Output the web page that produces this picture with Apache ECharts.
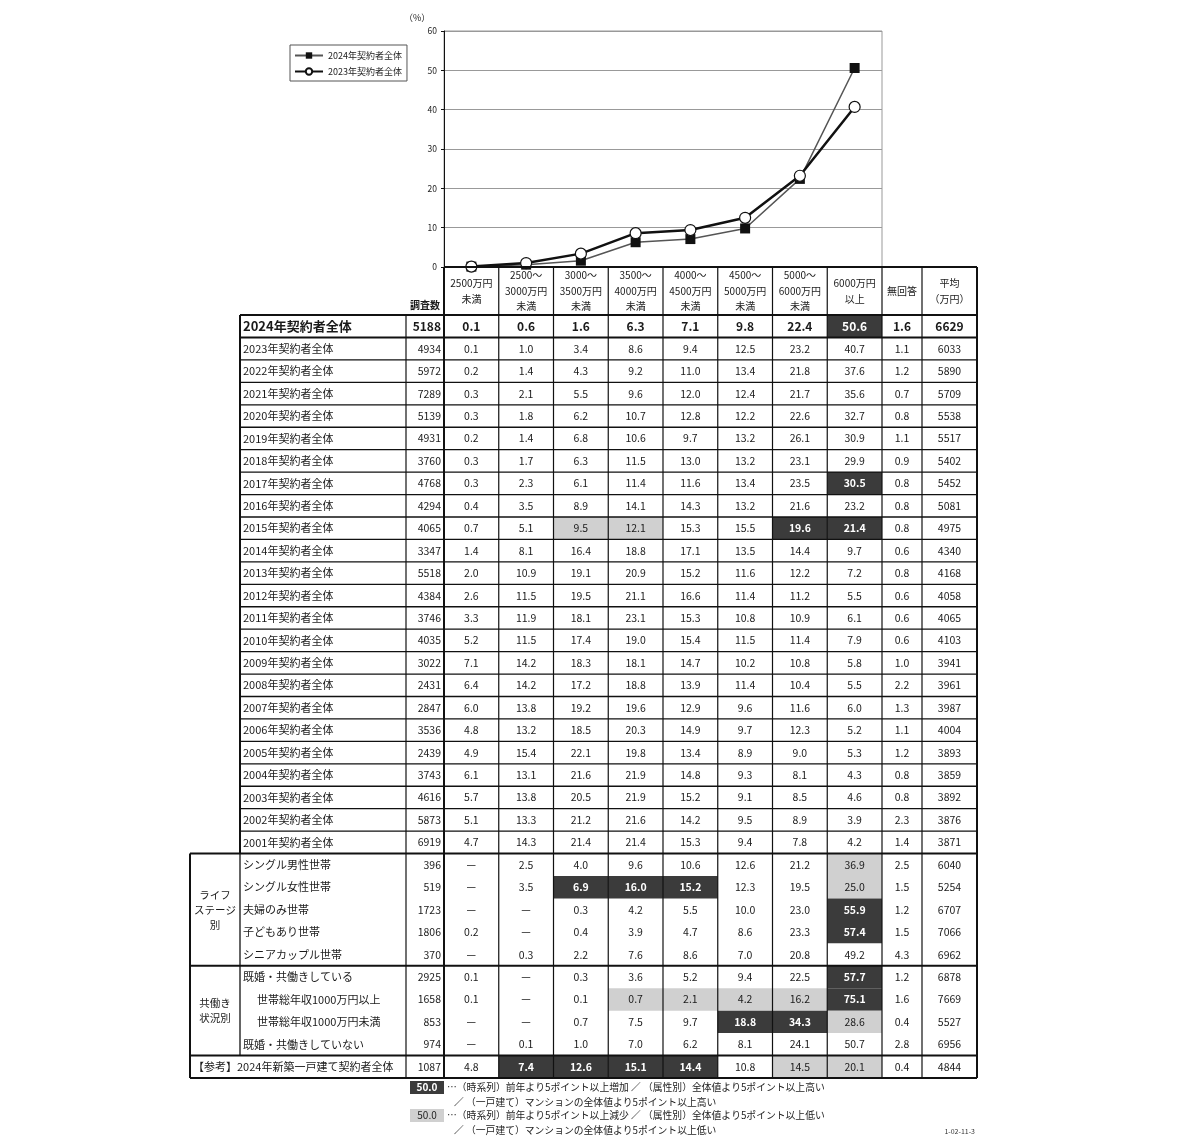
<!DOCTYPE html>
<html>
<head>
<meta charset="utf-8">
<script src="https://cdn.jsdelivr.net/npm/echarts@6/dist/echarts.min.js"></script>
<style>
  html, body { margin: 0; padding: 0; background: #fff; }
  #chart { width: 1200px; height: 1146px; }
</style>
</head>
<body>
<div id="chart"></div>
<script>
// price brackets (header text, also the line chart categories)
const headerLabels = [
  "2500万円\n未満", "2500～\n3000万円\n未満", "3000～\n3500万円\n未満", "3500～\n4000万円\n未満",
  "4000～\n4500万円\n未満", "4500～\n5000万円\n未満", "5000～\n6000万円\n未満", "6000万円\n以上"
];
const extraHeaders = ["無回答", "平均\n（万円）"];
const countHeader = "調査数";
const categories = headerLabels.map(s => s.replace(/\n/g, ""));

const rowLabels = [
  "2024年契約者全体", "2023年契約者全体", "2022年契約者全体", "2021年契約者全体", "2020年契約者全体",
  "2019年契約者全体", "2018年契約者全体", "2017年契約者全体", "2016年契約者全体", "2015年契約者全体",
  "2014年契約者全体", "2013年契約者全体", "2012年契約者全体", "2011年契約者全体", "2010年契約者全体",
  "2009年契約者全体", "2008年契約者全体", "2007年契約者全体", "2006年契約者全体", "2005年契約者全体",
  "2004年契約者全体", "2003年契約者全体", "2002年契約者全体", "2001年契約者全体",
  "シングル男性世帯", "シングル女性世帯", "夫婦のみ世帯", "子どもあり世帯", "シニアカップル世帯",
  "既婚・共働きしている", "世帯総年収1000万円以上", "世帯総年収1000万円未満", "既婚・共働きしていない",
  "【参考】2024年新築一戸建て契約者全体"
];
const indented = [30, 31];

const counts = [
  5188, 4934, 5972, 7289, 5139, 4931, 3760, 4768, 4294, 4065, 3347, 5518, 4384, 3746, 4035,
  3022, 2431, 2847, 3536, 2439, 3743, 4616, 5873, 6919,
  396, 519, 1723, 1806, 370, 2925, 1658, 853, 974, 1087
];

const shares = [
  [0.1, 0.6, 1.6, 6.3, 7.1, 9.8, 22.4, 50.6],
  [0.1, 1.0, 3.4, 8.6, 9.4, 12.5, 23.2, 40.7],
  [0.2, 1.4, 4.3, 9.2, 11.0, 13.4, 21.8, 37.6],
  [0.3, 2.1, 5.5, 9.6, 12.0, 12.4, 21.7, 35.6],
  [0.3, 1.8, 6.2, 10.7, 12.8, 12.2, 22.6, 32.7],
  [0.2, 1.4, 6.8, 10.6, 9.7, 13.2, 26.1, 30.9],
  [0.3, 1.7, 6.3, 11.5, 13.0, 13.2, 23.1, 29.9],
  [0.3, 2.3, 6.1, 11.4, 11.6, 13.4, 23.5, 30.5],
  [0.4, 3.5, 8.9, 14.1, 14.3, 13.2, 21.6, 23.2],
  [0.7, 5.1, 9.5, 12.1, 15.3, 15.5, 19.6, 21.4],
  [1.4, 8.1, 16.4, 18.8, 17.1, 13.5, 14.4, 9.7],
  [2.0, 10.9, 19.1, 20.9, 15.2, 11.6, 12.2, 7.2],
  [2.6, 11.5, 19.5, 21.1, 16.6, 11.4, 11.2, 5.5],
  [3.3, 11.9, 18.1, 23.1, 15.3, 10.8, 10.9, 6.1],
  [5.2, 11.5, 17.4, 19.0, 15.4, 11.5, 11.4, 7.9],
  [7.1, 14.2, 18.3, 18.1, 14.7, 10.2, 10.8, 5.8],
  [6.4, 14.2, 17.2, 18.8, 13.9, 11.4, 10.4, 5.5],
  [6.0, 13.8, 19.2, 19.6, 12.9, 9.6, 11.6, 6.0],
  [4.8, 13.2, 18.5, 20.3, 14.9, 9.7, 12.3, 5.2],
  [4.9, 15.4, 22.1, 19.8, 13.4, 8.9, 9.0, 5.3],
  [6.1, 13.1, 21.6, 21.9, 14.8, 9.3, 8.1, 4.3],
  [5.7, 13.8, 20.5, 21.9, 15.2, 9.1, 8.5, 4.6],
  [5.1, 13.3, 21.2, 21.6, 14.2, 9.5, 8.9, 3.9],
  [4.7, 14.3, 21.4, 21.4, 15.3, 9.4, 7.8, 4.2],
  [null, 2.5, 4.0, 9.6, 10.6, 12.6, 21.2, 36.9],
  [null, 3.5, 6.9, 16.0, 15.2, 12.3, 19.5, 25.0],
  [null, null, 0.3, 4.2, 5.5, 10.0, 23.0, 55.9],
  [0.2, null, 0.4, 3.9, 4.7, 8.6, 23.3, 57.4],
  [null, 0.3, 2.2, 7.6, 8.6, 7.0, 20.8, 49.2],
  [0.1, null, 0.3, 3.6, 5.2, 9.4, 22.5, 57.7],
  [0.1, null, 0.1, 0.7, 2.1, 4.2, 16.2, 75.1],
  [null, null, 0.7, 7.5, 9.7, 18.8, 34.3, 28.6],
  [null, 0.1, 1.0, 7.0, 6.2, 8.1, 24.1, 50.7],
  [4.8, 7.4, 12.6, 15.1, 14.4, 10.8, 14.5, 20.1]
];

const noAnswer = [
  1.6, 1.1, 1.2, 0.7, 0.8, 1.1, 0.9, 0.8, 0.8, 0.8, 0.6, 0.8, 0.6, 0.6, 0.6,
  1.0, 2.2, 1.3, 1.1, 1.2, 0.8, 0.8, 2.3, 1.4,
  2.5, 1.5, 1.2, 1.5, 4.3, 1.2, 1.6, 0.4, 2.8, 0.4
];

const average = [
  6629, 6033, 5890, 5709, 5538, 5517, 5402, 5452, 5081, 4975, 4340, 4168, 4058, 4065, 4103,
  3941, 3961, 3987, 4004, 3893, 3859, 3892, 3876, 3871,
  6040, 5254, 6707, 7066, 6962, 6878, 7669, 5527, 6956, 4844
];

// "+" = 5pt or more higher, "-" = 5pt or more lower (per bracket)
const flags = {
  0: ".......+", 7: ".......+", 9: "..--..++",
  24: ".......-", 25: "..+++..-", 26: ".......+", 27: ".......+",
  29: ".......+", 30: "...----+", 31: ".....++-", 33: ".++++.--"
};

const groups = [
  { name: "ライフ\nステージ\n別", from: 24, to: 29 },
  { name: "共働き\n状況別", from: 29, to: 33 }
];

const seriesNames = ["2024年契約者全体", "2023年契約者全体"];

// ---- layout ----
const FONT = "'Noto Sans CJK JP', 'Noto Sans', sans-serif";
const DARK = "#3b3b3b";
const LIGHT = "#d0d0d0";
const COL = [0, 50, 216, 254];
for (let k = 1; k <= 8; k++) COL.push(254 + k * 54.75);
COL.push(732, 787);
const HEAD = -2.14;
const NROWS = rowLabels.length;

function groupOf(r) {
  return groups.find(g => r >= g.from && r < g.to);
}

const cells = [];
headerLabels.concat(extraHeaders).forEach((t, i) => {
  cells.push({ x0: COL[3 + i], x1: COL[4 + i], y0: HEAD, y1: 0, text: t, size: 10, lh: 15.5 });
});
cells.push({ x0: COL[2], x1: COL[3], y0: HEAD, y1: 0, text: countHeader, size: 10, bold: true, ty: -0.45 });

rowLabels.forEach((lab, r) => {
  const big = r === 0;
  const size = big ? 13 : 11;
  const lx0 = (r >= 24 && !groupOf(r)) ? COL[0] : COL[1];
  const pad = 3 + (indented.includes(r) ? 14 : 0);
  cells.push({ x0: lx0, x1: COL[2], y0: r, y1: r + 1, text: lab, align: "left", pad, size, bold: big });
  cells.push({ x0: COL[2], x1: COL[3], y0: r, y1: r + 1, text: String(counts[r]), align: "right", pad: 3, size: big ? 12 : 10.5, bold: big });
  const f = flags[r] || "........";
  shares[r].forEach((v, k) => {
    const mark = f[k];
    cells.push({
      x0: COL[3 + k], x1: COL[4 + k], y0: r, y1: r + 1,
      text: v == null ? "—" : v.toFixed(1),
      fill: mark === "+" ? DARK : mark === "-" ? LIGHT : null,
      color: mark === "+" ? "#fff" : v == null ? "#555" : "#1a1a1a",
      size: big ? 12 : 10.5, bold: big || mark === "+" || v == null
    });
  });
  cells.push({ x0: COL[11], x1: COL[12], y0: r, y1: r + 1, text: noAnswer[r].toFixed(1), size: big ? 12 : 10.5, bold: big });
  cells.push({ x0: COL[12], x1: COL[13], y0: r, y1: r + 1, text: String(average[r]), size: big ? 12 : 10.5, bold: big });
});
groups.forEach(g => {
  cells.push({ x0: COL[0], x1: COL[1], y0: g.from, y1: g.to, text: g.name, size: 10.5, lh: 15 });
});

// table rules
const segs = [];
const H = (y, xa, xb, w) => segs.push([xa, y, xb, y, w]);
const V = (x, ya, yb, w) => segs.push([x, ya, x, yb, w]);
H(HEAD, COL[3], COL[13], 2);
H(0, COL[1], COL[13], 2);
for (let r = 1; r < 24; r++) H(r, COL[1], COL[13], r === 1 ? 2 : 1.3);
H(24, COL[0], COL[13], 2);
groups.forEach(g => {
  H(g.to, COL[0], COL[13], 2);
  V(COL[1], g.from, g.to, 1.3);
});
H(NROWS, COL[0], COL[13], 2);
V(COL[0], 24, NROWS, 2);
V(COL[1], 0, 24, 2);
V(COL[2], 0, NROWS, 1.2);
for (let i = 3; i <= 13; i++) V(COL[i], HEAD, NROWS, (i === 3 || i === 13) ? 2 : 1.2);

function rect(api, x0, y0, x1, y1) {
  const a = api.coord([x0, y0]);
  const b = api.coord([x1, y1]);
  return {
    x: Math.min(a[0], b[0]), y: Math.min(a[1], b[1]),
    width: Math.abs(b[0] - a[0]), height: Math.abs(b[1] - a[1])
  };
}

function renderCell(params, api) {
  const c = cells[params.dataIndex];
  const r = rect(api, c.x0, c.y0, c.x1, c.y1);
  const children = [];
  if (c.fill) children.push({ type: "rect", shape: r, style: { fill: c.fill } });
  let tx = r.x + r.width / 2;
  let align = "center";
  if (c.align === "left") { tx = r.x + c.pad; align = "left"; }
  if (c.align === "right") { tx = r.x + r.width - c.pad; align = "right"; }
  let ty = r.y + r.height / 2;
  if (c.ty != null) ty = api.coord([0, c.y1 + c.ty])[1];
  children.push({
    type: "text",
    style: {
      text: c.text, x: tx, y: ty, align, verticalAlign: "middle",
      fill: c.color || "#1a1a1a", fontFamily: FONT, fontSize: c.size,
      fontWeight: c.bold ? "bold" : "normal", lineHeight: c.lh || c.size + 3
    }
  });
  return { type: "group", children };
}

function renderSeg(params, api) {
  const s = segs[params.dataIndex];
  const a = api.coord([s[0], s[1]]);
  const b = api.coord([s[2], s[3]]);
  return {
    type: "line",
    shape: { x1: a[0], y1: a[1], x2: b[0], y2: b[1] },
    style: { stroke: "#111", lineWidth: s[4] }
  };
}

const chart = echarts.init(document.getElementById("chart"), null, { renderer: "canvas" });
const option = {
  animation: false,
  backgroundColor: "#fff",
  textStyle: { fontFamily: FONT },
  legend: {
    data: seriesNames.slice(),
    orient: "vertical",
    left: 290, top: 45,
    padding: [6, 5, 5, 4],
    itemGap: 7,
    itemWidth: 28, itemHeight: 8,
    borderColor: "#555", borderWidth: 1,
    textStyle: { fontSize: 9, color: "#222", fontFamily: FONT }
  },
  grid: [
    { left: 444, top: 31, width: 438, height: 236, show: true, borderColor: "#999", borderWidth: 1, outerBoundsMode: "none" },
    { left: 190, top: 267, width: 787, height: 811, outerBoundsMode: "none" }
  ],
  xAxis: [
    {
      gridIndex: 0, type: "category", data: categories, boundaryGap: true,
      axisLine: { show: false }, axisTick: { show: false }, axisLabel: { show: false }, splitLine: { show: false }
    },
    { gridIndex: 1, type: "value", min: 0, max: 787, show: false }
  ],
  yAxis: [
    {
      gridIndex: 0, type: "value", min: 0, max: 60, interval: 10,
      axisLine: { show: true, lineStyle: { color: "#111", width: 1 } },
      axisTick: { show: true, length: 3, lineStyle: { color: "#111" } },
      axisLabel: { fontSize: 8.5, color: "#222", margin: 7, fontFamily: FONT },
      splitLine: { show: true, lineStyle: { color: "#999", width: 1 } }
    },
    { gridIndex: 1, type: "value", min: HEAD, max: NROWS, inverse: true, show: false }
  ],
  series: [
    {
      name: seriesNames[0], type: "line", xAxisIndex: 0, yAxisIndex: 0,
      data: shares[0], symbol: "rect", symbolSize: 10, z: 3,
      itemStyle: { color: "#111" },
      lineStyle: { color: "#555", width: 1.5 }
    },
    {
      name: seriesNames[1], type: "line", xAxisIndex: 0, yAxisIndex: 0,
      data: shares[1], symbol: "circle", symbolSize: 11, z: 4,
      itemStyle: { color: "#fff", borderColor: "#111", borderWidth: 1.2 },
      lineStyle: { color: "#111", width: 2.5 }
    },
    {
      type: "custom", xAxisIndex: 1, yAxisIndex: 1, z: 5, silent: true,
      renderItem: renderCell,
      data: cells.map(c => [c.x0, c.y0, c.x1, c.y1]),
      encode: { x: [0, 2], y: [1, 3] }
    },
    {
      type: "custom", xAxisIndex: 1, yAxisIndex: 1, z: 6, silent: true,
      renderItem: renderSeg,
      data: segs.map(s => [s[0], s[1], s[2], s[3]]),
      encode: { x: [0, 2], y: [1, 3] }
    }
  ],
  graphic: [
    { type: "text", x: 404, y: 13, style: { text: "（%）", fontSize: 9, fill: "#222", fontFamily: FONT } },
    { type: "rect", shape: { x: 410, y: 1081, width: 34, height: 13 }, style: { fill: DARK } },
    { type: "text", x: 427, y: 1087.5, style: { text: "50.0", fill: "#fff", fontSize: 10, fontWeight: "bold", align: "center", verticalAlign: "middle", fontFamily: FONT } },
    { type: "text", x: 447, y: 1087.5, style: { text: "…（時系列）前年より5ポイント以上増加 ／ （属性別）全体値より5ポイント以上高い", fill: "#222", fontSize: 9.8, verticalAlign: "middle", fontFamily: FONT } },
    { type: "text", x: 454, y: 1102, style: { text: "／ （一戸建て）マンションの全体値より5ポイント以上高い", fill: "#222", fontSize: 9.8, verticalAlign: "middle", fontFamily: FONT } },
    { type: "rect", shape: { x: 410, y: 1109, width: 34, height: 13 }, style: { fill: LIGHT } },
    { type: "text", x: 427, y: 1115.5, style: { text: "50.0", fill: "#222", fontSize: 10, align: "center", verticalAlign: "middle", fontFamily: FONT } },
    { type: "text", x: 447, y: 1115.5, style: { text: "…（時系列）前年より5ポイント以上減少 ／ （属性別）全体値より5ポイント以上低い", fill: "#222", fontSize: 9.8, verticalAlign: "middle", fontFamily: FONT } },
    { type: "text", x: 454, y: 1130, style: { text: "／ （一戸建て）マンションの全体値より5ポイント以上低い", fill: "#222", fontSize: 9.8, verticalAlign: "middle", fontFamily: FONT } },
    { type: "text", x: 975, y: 1131, style: { text: "1-02-11-3", fill: "#333", fontSize: 7, align: "right", verticalAlign: "middle", fontFamily: FONT } }
  ]
};
chart.setOption(option);
</script>
</body>
</html>
